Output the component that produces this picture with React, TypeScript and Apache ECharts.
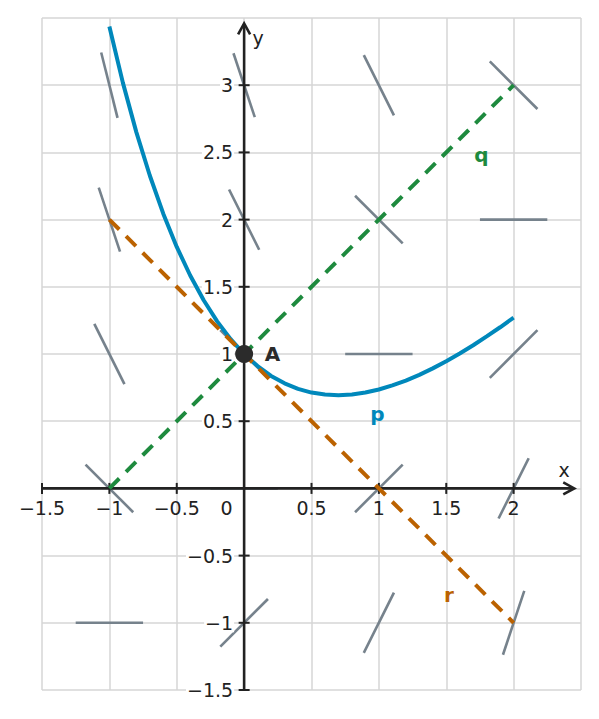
import React, { useEffect, useRef } from "react";
import * as echarts from "echarts";

// ---- data ----
const xTicks = [-1.5, -1, -0.5, 0.5, 1, 1.5, 2];
const yTicks = [-1.5, -1, -0.5, 0.5, 1, 1.5, 2, 2.5, 3];

// curve p
const curveX = [-1, -0.9, -0.8, -0.7, -0.6, -0.5, -0.4, -0.3, -0.2, -0.1, 0, 0.1, 0.2, 0.3, 0.4, 0.5, 0.6, 0.7, 0.8, 0.9, 1, 1.1, 1.2, 1.3, 1.4, 1.5, 1.6, 1.7, 1.8, 1.9, 2];
const curveY = [3.437, 3.019, 2.651, 2.328, 2.044, 1.797, 1.584, 1.400, 1.243, 1.110, 1.0, 0.910, 0.837, 0.782, 0.741, 0.713, 0.698, 0.693, 0.699, 0.713, 0.736, 0.766, 0.802, 0.845, 0.893, 0.946, 1.004, 1.065, 1.131, 1.199, 1.271];

// dashed lines q and r (endpoints)
const qX = [-1, 2];
const qY = [0, 3];
const rX = [-1, 2];
const rY = [2, -1];

// point A
const pointA = [0, 1];

// slope field (grid points and slopes)
const fieldX = [-1, -1, -1, -1, -1, 0, 0, 0, 0, 0, 1, 1, 1, 1, 1, 2, 2, 2, 2, 2];
const fieldY = [-1, 0, 1, 2, 3, -1, 0, 1, 2, 3, -1, 0, 1, 2, 3, -1, 0, 1, 2, 3];
const fieldSlope = [0, -1, -2, -3, -4, 1, 0, -1, -2, -3, 2, 1, 0, -1, -2, 3, 2, 1, 0, -1];

// axis extents
const xAxisLine = [-1.5, 2.45];
const yAxisLine = [-1.5, 3.46];

// annotations
const labelText = ["A", "p", "q", "r", "x", "y", "0"];
const labelX = [0.21, 0.99, 1.76, 1.52, 2.375, 0.104, -0.13];
const labelY = [1.0, 0.55, 2.48, -0.79, 0.134, 3.35, -0.149];

const SEG_HALF = 0.25;
const FONT = "DejaVu Sans";
const labelColor = ["#2b2b2b", "#0088bb", "#1e8a3e", "#bb6200", "#222222", "#222222", "#222222"];
const labelBold = [true, true, true, true, false, false, false];

const fmt = (v: number) => String(v).replace("-", "\u2212");

export default function App() {
  const ref = useRef<HTMLDivElement>(null);
  useEffect(() => {
    if (!ref.current) return;
    const chart = echarts.init(ref.current, undefined, { renderer: "svg" });

    const axisCommon = (min: number, max: number) => ({
      type: "value",
      min,
      max,
      interval: 0.5,
      axisLine: { show: false },
      axisTick: { show: false },
      axisLabel: { show: false },
      splitLine: { show: true, lineStyle: { color: "#d6d6d6", width: 1.5 } },
    });

    const fieldData = fieldX.map((x, i) => [x, fieldY[i], fieldSlope[i]]);
    const tickData = [
      ...xTicks.map((v) => [v, 0]),
      ...yTicks.map((v) => [v, 1]),
    ];
    const axesData = [
      [xAxisLine[0], 0, xAxisLine[1], 0],
      [0, yAxisLine[0], 0, yAxisLine[1]],
    ];

    chart.setOption({
      animation: false,
      backgroundColor: "#ffffff",
      grid: { left: 42, right: 18, top: 18, bottom: 29, containLabel: false, outerBoundsMode: "none" },
      xAxis: axisCommon(-1.5, 2.5),
      yAxis: axisCommon(-1.5, 3.5),
      series: [
        {
          type: "custom",
          name: "field",
          z: 2,
          clip: false,
          data: fieldData,
          renderItem: (params: any, api: any) => {
            const x = api.value(0);
            const y = api.value(1);
            const m = api.value(2);
            const c = api.coord([x, y]);
            const cx = api.coord([x + SEG_HALF, y]);
            const half = cx[0] - c[0];
            const ang = Math.atan(m);
            const dx = half * Math.cos(ang);
            const dy = half * Math.sin(ang);
            return {
              type: "line",
              shape: { x1: c[0] - dx, y1: c[1] + dy, x2: c[0] + dx, y2: c[1] - dy },
              style: { stroke: "#76828c", lineWidth: 2.6 },
            };
          },
        },
        {
          type: "custom",
          name: "axes",
          z: 3,
          clip: false,
          data: axesData,
          renderItem: (params: any, api: any) => {
            const a = api.coord([api.value(0), api.value(1)]);
            const b = api.coord([api.value(2), api.value(3)]);
            const len = Math.hypot(b[0] - a[0], b[1] - a[1]);
            const ux = (b[0] - a[0]) / len;
            const uy = (b[1] - a[1]) / len;
            const nx = -uy;
            const ny = ux;
            const back = 11;
            const side = 6;
            return {
              type: "group",
              children: [
                {
                  type: "line",
                  shape: { x1: a[0], y1: a[1], x2: b[0] - ux * 1, y2: b[1] - uy * 1 },
                  style: { stroke: "#222222", lineWidth: 2.6 },
                },
                {
                  type: "polyline",
                  shape: {
                    points: [
                      [b[0] - ux * back + nx * side, b[1] - uy * back + ny * side],
                      [b[0], b[1]],
                      [b[0] - ux * back - nx * side, b[1] - uy * back - ny * side],
                    ],
                  },
                  style: { stroke: "#222222", lineWidth: 2.6, fill: "none", lineJoin: "miter" },
                },
              ],
            };
          },
        },
        {
          type: "custom",
          name: "ticks",
          z: 3,
          clip: false,
          data: tickData,
          renderItem: (params: any, api: any) => {
            const v = api.value(0);
            const isY = api.value(1) === 1;
            const c = isY ? api.coord([0, v]) : api.coord([v, 0]);
            const t = 5.5;
            return {
              type: "group",
              children: [
                {
                  type: "line",
                  shape: isY
                    ? { x1: c[0] - t, y1: c[1], x2: c[0] + t, y2: c[1] }
                    : { x1: c[0], y1: c[1] - t, x2: c[0], y2: c[1] + t },
                  style: { stroke: "#222222", lineWidth: 2 },
                },
                {
                  type: "text",
                  x: isY ? c[0] - 10 : c[0],
                  y: isY ? c[1] : c[1] + 10,
                  style: isY
                    ? {
                        text: fmt(v),
                        fill: "#222222",
                        font: `19px ${FONT}`,
                        align: "right",
                        verticalAlign: "middle",
                        backgroundColor: "#ffffff",
                        padding: [0, 1, 0, 1],
                      }
                    : {
                        text: fmt(v),
                        fill: "#222222",
                        font: `19px ${FONT}`,
                        align: "center",
                        verticalAlign: "top",
                      },
                },
              ],
            };
          },
        },
        {
          type: "line",
          name: "p",
          z: 4,
          showSymbol: false,
          data: curveX.map((x, i) => [x, curveY[i]]),
          lineStyle: { color: "#0088bb", width: 4 },
        },
        {
          type: "line",
          name: "r",
          z: 4,
          showSymbol: false,
          data: rX.map((x, i) => [x, rY[i]]),
          lineStyle: { color: "#bb6200", width: 4, type: [14, 9.5] },
        },
        {
          type: "line",
          name: "q",
          z: 4,
          showSymbol: false,
          data: qX.map((x, i) => [x, qY[i]]),
          lineStyle: { color: "#1e8a3e", width: 4, type: [14, 9.5] },
        },
        {
          type: "scatter",
          name: "A",
          z: 5,
          symbolSize: 18,
          data: [pointA],
          itemStyle: { color: "#2b2b2b", opacity: 1 },
        },
        {
          type: "custom",
          name: "labels",
          z: 6,
          clip: false,
          data: labelX.map((x, i) => [x, labelY[i]]),
          renderItem: (params: any, api: any) => {
            const i = params.dataIndex;
            const c = api.coord([api.value(0), api.value(1)]);
            return {
              type: "text",
              x: c[0],
              y: c[1],
              style: {
                text: labelText[i],
                fill: labelColor[i],
                font: `${labelBold[i] ? "bold " : ""}${labelBold[i] ? 20 : 19}px ${FONT}`,
                align: "center",
                verticalAlign: "middle",
              },
            };
          },
        },
      ],
    });
    return () => chart.dispose();
  }, []);
  return (
    <div
      ref={ref}
      style={{ position: "fixed", left: 0, top: 0, width: 599, height: 719, background: "#fff" }}
    />
  );
}
